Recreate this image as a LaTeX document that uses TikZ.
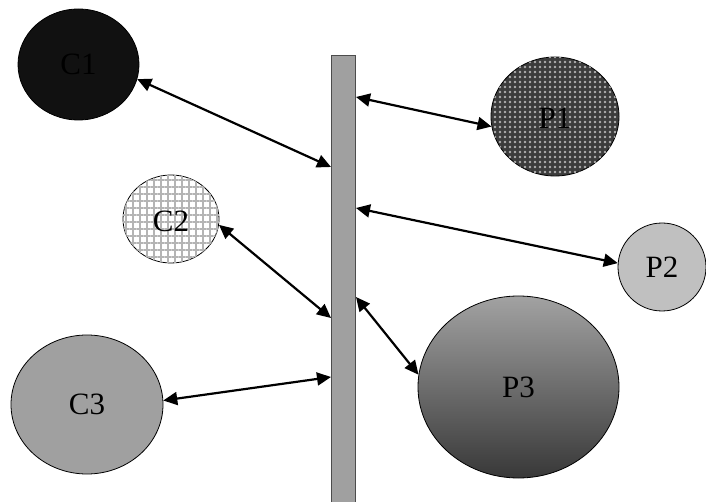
\documentclass[tikz,border=0pt]{standalone}
\usepackage{fontspec}
\setmainfont{Liberation Serif}
\usetikzlibrary{shapes.geometric,arrows.meta,patterns.meta}
\definecolor{barfill}{HTML}{A0A0A0}
\definecolor{cblack}{HTML}{111111}
\definecolor{cgray}{HTML}{A0A0A0}
\definecolor{ptwo}{HTML}{C0C0C0}
\definecolor{ptop}{HTML}{A2A2A2}
\definecolor{pbot}{HTML}{383838}
\definecolor{pone}{HTML}{3C3C3C}
\definecolor{ponedot}{HTML}{B0B0B0}
\definecolor{ctwogrid}{HTML}{B4B4B4}
\tikzset{
  lbl/.style={font=\fontsize{31}{34}\selectfont},
  blob/.style={ellipse, draw=black, line width=0.8pt, inner sep=0pt, lbl},
  link/.style={{Triangle[length=14pt,width=13pt]}-{Triangle[length=14pt,width=13pt]}, line width=2.2pt},
}
\begin{document}
\begin{tikzpicture}[x=1pt,y=-1pt]
\useasboundingbox (0,0) rectangle (706,502);
% bar
\node[draw=black!70, line width=0.7pt, fill=barfill, rectangle, inner sep=0pt,
      minimum width=24pt, minimum height=452pt, anchor=north] (bar) at (343.5,55) {};
% clients
\node[blob, fill=cblack, minimum width=121pt, minimum height=111pt] (c1) at (78.5,64.5) {C1};
\node[blob, fill=white, minimum width=96pt, minimum height=88pt,
      postaction={pattern={Lines[angle=0,distance=7pt,line width=2.6pt]}, pattern color=ctwogrid},
      postaction={pattern={Lines[angle=90,distance=7pt,line width=2.6pt]}, pattern color=ctwogrid}] (c2) at (171,219) {};
\node[lbl] (c2t) at (171,221) {C2};
\node[blob, fill=cgray, minimum width=152pt, minimum height=139pt] (c3) at (87,404.5) {C3};
% providers
\node[blob, fill=pone, minimum width=128pt, minimum height=119pt,
      postaction={pattern={Dots[radius=1.4pt,distance=5pt,angle=0]}, pattern color=ponedot}] (p1) at (555,116.5) {};
\node[lbl] (p1t) at (555,118) {P1};
\node[blob, fill=ptwo, minimum width=88pt, minimum height=88pt] (p2) at (662,267) {P2};
\node[blob, top color=ptop, bottom color=pbot, minimum width=201pt, minimum height=182pt] (p3) at (518.5,387) {P3};
% attachment points on the bar
\coordinate (b1) at (331,167);
\coordinate (b2) at (356,97);
\coordinate (b3) at (356,208);
\coordinate (b4) at (331,318);
\coordinate (b5) at (356,297);
\coordinate (b6) at (331,377);
% connectors
\draw[link] (c1.-14) -- (b1);
\draw[link] (p1.189) -- (b2);
\draw[link] (p2.175) -- (b3);
\draw[link] (c2.-7) -- (b4);
\draw[link] (p3.173) -- (b5);
\draw[link] (c3.3) -- (b6);
\end{tikzpicture}
\end{document}
